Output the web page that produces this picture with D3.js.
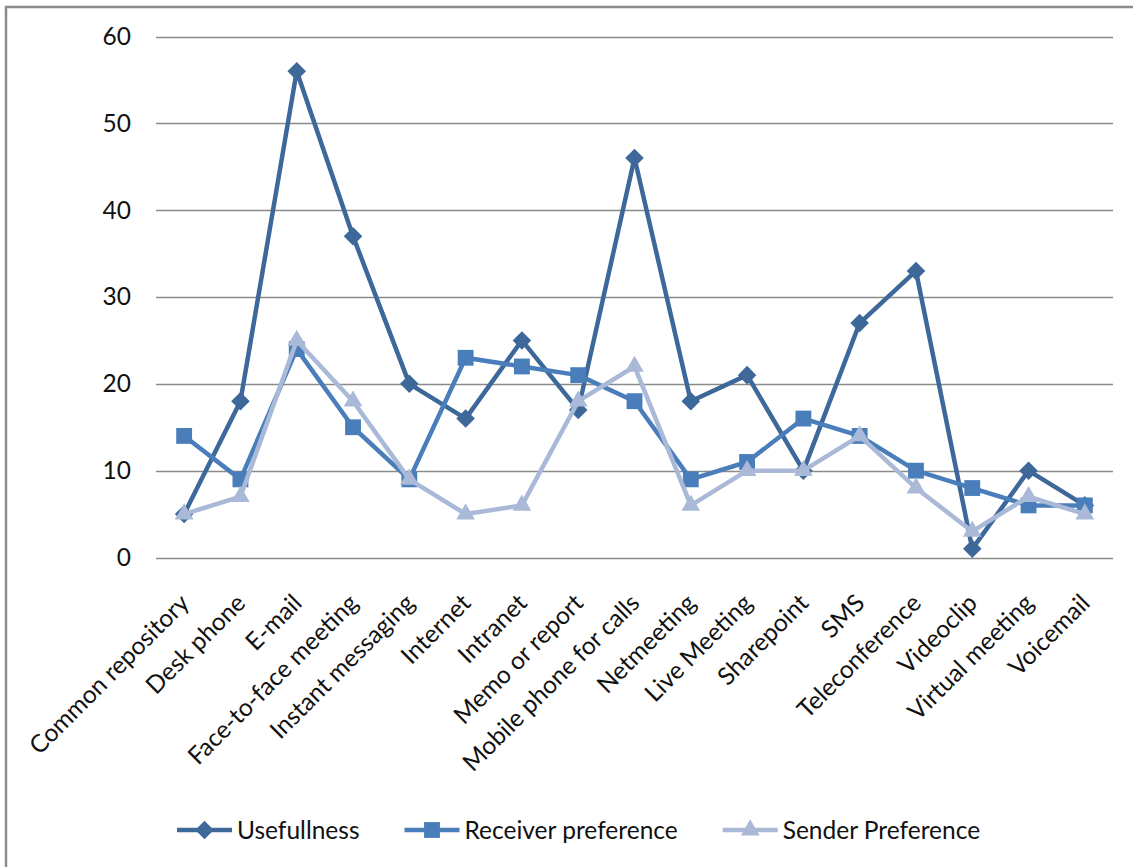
<!DOCTYPE html>
<html>
<head>
<meta charset="utf-8">
<script src="https://cdnjs.cloudflare.com/ajax/libs/d3/7.8.5/d3.min.js"></script>
<style>
  html, body { margin: 0; padding: 0; background: #fff; }
  svg { display: block; }
  text { font-family: Lato, "Open Sans", sans-serif; fill: #111; }
</style>
</head>
<body>
<svg id="chart" width="1133" height="867"></svg>
<script>
// Communication channels and their scores
const categories = [
  "Common repository", "Desk phone", "E-mail", "Face-to-face meeting",
  "Instant messaging", "Internet", "Intranet", "Memo or report",
  "Mobile phone for calls", "Netmeeting", "Live Meeting", "Sharepoint",
  "SMS", "Teleconference", "Videoclip", "Virtual meeting", "Voicemail"
];
const usefullness = [5, 18, 56, 37, 20, 16, 25, 17, 46, 18, 21, 10, 27, 33, 1, 10, 6];
const receiverPreference = [14, 9, 24, 15, 9, 23, 22, 21, 18, 9, 11, 16, 14, 10, 8, 6, 6];
const senderPreference = [5, 7, 25, 18, 9, 5, 6, 18, 22, 6, 10, 10, 14, 8, 3, 7, 5];
const yTicks = [0, 10, 20, 30, 40, 50, 60];

const seriesNames = ["Usefullness", "Receiver preference", "Sender Preference"];
const seriesValues = [usefullness, receiverPreference, senderPreference];
const seriesColors = ["#3d6899", "#4a7ebb", "#a9b9d7"];
const seriesSymbols = [d3.symbolDiamond2, d3.symbolSquare2, d3.symbolTriangle2];
const symbolSizes = [220, 320, 250];

const fontSize = 24.5;

const svg = d3.select("#chart");

// outer frame
svg.append("rect")
  .attr("x", 6).attr("y", 7)
  .attr("width", 1300).attr("height", 1000)
  .attr("fill", "none")
  .attr("stroke", "#8c8c8c")
  .attr("stroke-width", 2.5);

const plot = { left: 156, right: 1113, top: 36.5, bottom: 557.5 };

const x = d3.scalePoint()
  .domain(categories)
  .range([plot.left, plot.right])
  .padding(0.5);

const y = d3.scaleLinear()
  .domain([0, 60])
  .range([plot.bottom, plot.top]);

// horizontal gridlines
svg.append("g")
  .selectAll("line")
  .data(yTicks)
  .join("line")
  .attr("x1", plot.left).attr("x2", plot.right)
  .attr("y1", d => Math.round(y(d)) + 0.5)
  .attr("y2", d => Math.round(y(d)) + 0.5)
  .attr("stroke", "#8a8a8a")
  .attr("stroke-width", 1.3);

// y axis labels
const yAxis = d3.axisLeft(y).tickValues(yTicks).tickSize(0).tickPadding(0);
svg.append("g")
  .attr("transform", `translate(131,0)`)
  .call(yAxis)
  .call(g => g.select(".domain").remove())
  .call(g => g.selectAll("text")
    .attr("font-family", "Lato, sans-serif")
    .attr("font-size", fontSize)
    .attr("fill", "#111"));

// category labels, rotated
const xAxis = d3.axisBottom(x).tickSize(0).tickPadding(0);
svg.append("g")
  .attr("transform", `translate(0,${plot.bottom})`)
  .call(xAxis)
  .call(g => g.select(".domain").remove())
  .call(g => g.selectAll("text")
    .attr("font-family", "Lato, sans-serif")
    .attr("font-size", fontSize)
    .attr("fill", "#111")
    .attr("text-anchor", "end")
    .attr("dy", "0.35em")
    .attr("transform", "translate(0,41) rotate(-45)"));

// series lines and markers
const line = d3.line()
  .x((d, i) => x(categories[i]))
  .y(d => y(d));

seriesValues.forEach((vals, s) => {
  const g = svg.append("g");
  g.append("path")
    .datum(vals)
    .attr("d", line)
    .attr("fill", "none")
    .attr("stroke", seriesColors[s])
    .attr("stroke-width", 4.5)
    .attr("stroke-linejoin", "round");
  g.selectAll("path.marker")
    .data(vals)
    .join("path")
    .attr("class", "marker")
    .attr("d", d3.symbol().type(seriesSymbols[s]).size(symbolSizes[s]))
    .attr("transform", (d, i) => `translate(${x(categories[i])},${y(d)})`)
    .attr("fill", seriesColors[s]);
});

// legend
const legend = svg.append("g").attr("transform", "translate(0,830)");
let lx = 177;
seriesNames.forEach((name, s) => {
  const item = legend.append("g").attr("transform", `translate(${lx},0)`);
  item.append("line")
    .attr("x1", 0).attr("x2", 55)
    .attr("y1", 0).attr("y2", 0)
    .attr("stroke", seriesColors[s])
    .attr("stroke-width", 4.5);
  item.append("path")
    .attr("d", d3.symbol().type(seriesSymbols[s]).size(symbolSizes[s]))
    .attr("transform", "translate(27.5,0)")
    .attr("fill", seriesColors[s]);
  const t = item.append("text")
    .attr("x", 60)
    .attr("dy", "0.35em")
    .attr("font-size", fontSize)
    .text(name);
  lx += 60 + t.node().getComputedTextLength() + 45;
});
</script>
</body>
</html>
